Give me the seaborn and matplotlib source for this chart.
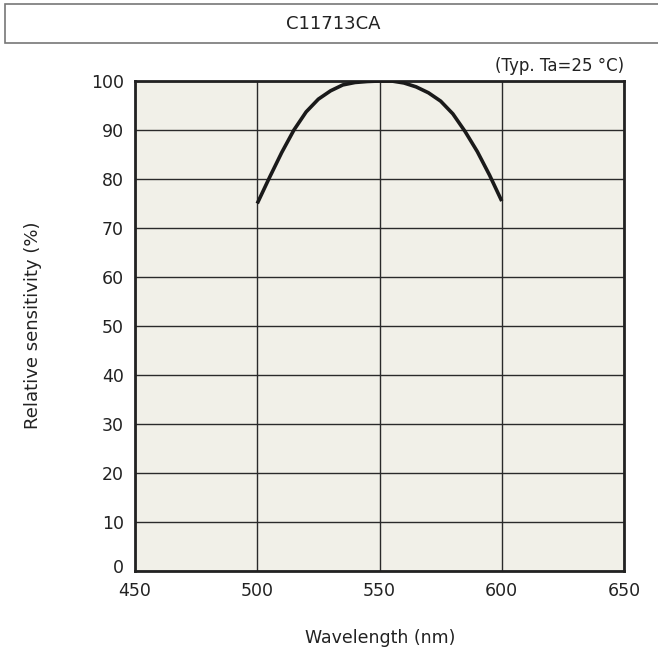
import matplotlib
matplotlib.use("Agg")
import matplotlib.pyplot as plt
import matplotlib.transforms as mtransforms
import seaborn as sns
import pandas as pd
from matplotlib.patches import Rectangle

wavelength = [500, 505, 510, 515, 520, 525, 530, 535, 540, 545, 550,
              555, 560, 565, 570, 575, 580, 585, 590, 595, 600]
sensitivity = [75.0, 80.3, 85.4, 90.0, 93.7, 96.3, 98.0, 99.2, 99.7, 99.9, 100.0,
               100.0, 99.6, 98.8, 97.6, 95.9, 93.3, 89.7, 85.6, 80.8, 75.5]
x_ticks = [450, 500, 550, 600, 650]
y_ticks = [0, 10, 20, 30, 40, 50, 60, 70, 80, 90, 100]

df = pd.DataFrame({"Wavelength": wavelength, "Sensitivity": sensitivity})

sns.set_theme(style="white")
plt.rcParams['font.family'] = ['DejaVu Sans']

fig = plt.figure(figsize=(6.58, 6.68), dpi=100)
ax = fig.add_axes([135/658, 1 - 571/668, (624-135)/658, (571-81)/668])
ax.set_facecolor('#f1f0e8')

sns.lineplot(data=df, x="Wavelength", y="Sensitivity", ax=ax,
             color='#1a1a1a', linewidth=2.6, zorder=3)
for ln in ax.lines:
    ln.set_solid_joinstyle('round')
    ln.set_solid_capstyle('butt')

ax.set_xlim(450, 650)
ax.set_ylim(0, 100)
ax.set_xticks(x_ticks)
ax.set_yticks(y_ticks)
ax.grid(True, color='#2a2a2a', linewidth=1.0)
ax.set_axisbelow(True)
for s in ax.spines.values():
    s.set_visible(True)
    s.set_color('#222222')
    s.set_linewidth(2.0)
ax.tick_params(axis='both', length=0, labelsize=12.5, colors='#222222')
ax.tick_params(axis='x', pad=8)
ax.tick_params(axis='y', pad=8)
ax.set_xlabel("")
ax.set_ylabel("")
fig.canvas.draw()
ylabels = ax.get_yticklabels()
ylabels[0].set_transform(ylabels[0].get_transform() +
                         mtransforms.ScaledTranslation(0, 5/100, fig.dpi_scale_trans))

fig.text(380/658, 1 - 638/668, "Wavelength (nm)", ha='center', va='center',
         fontsize=12.5, color='#222222')
fig.text(33/658, 1 - 325/668, "Relative sensitivity (%)", ha='center', va='center',
         rotation=90, fontsize=13, color='#222222')
fig.text(624/658, 1 - 66/668, "(Typ. Ta=25 \u00b0C)", ha='right', va='center',
         fontsize=12, color='#222222')

box = Rectangle((5/658, 1 - 43/668), 660/658, 39/668, transform=fig.transFigure,
                facecolor='white', edgecolor='#777777', linewidth=1.2)
fig.patches.append(box)
fig.text(333/658, 1 - 24/668, "C11713CA", ha='center', va='center',
         fontsize=13, color='#222222')

fig.savefig("out.png", dpi=100, facecolor='white')
